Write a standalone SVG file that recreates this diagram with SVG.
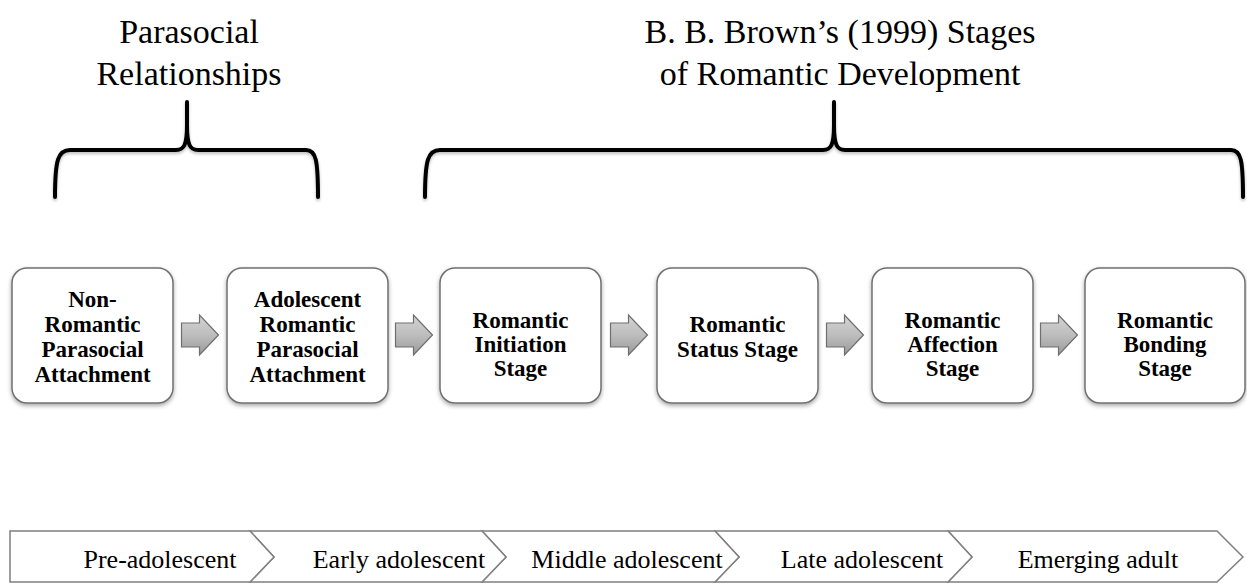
<svg xmlns="http://www.w3.org/2000/svg" width="1247" height="584" viewBox="0 0 1247 584">
<style>
.title{font-family:"Liberation Serif","Times New Roman",serif;font-size:34px;fill:#000;text-anchor:middle}
.box{fill:#fff;stroke:#707070;stroke-width:1.5}
.lbl{font-family:"Liberation Serif","Times New Roman",serif;font-size:23px;font-weight:bold;fill:#000;text-anchor:middle}
.brace{fill:none;stroke:#000;stroke-width:4;stroke-linecap:round;stroke-linejoin:round}
.seg{fill:#fff;stroke:#7f7f7f;stroke-width:1.5;stroke-linejoin:miter}
.age{font-family:"Liberation Serif","Times New Roman",serif;font-size:26px;fill:#000;text-anchor:middle}
.arr{fill:url(#ag);stroke:#6e6e6e;stroke-width:1.2}
</style>
<defs>
<filter id="sh" x="-10%" y="-10%" width="120%" height="125%">
<feDropShadow dx="0" dy="2" stdDeviation="2" flood-color="#000" flood-opacity="0.35"/>
</filter>
<filter id="bsh" x="-5%" y="-20%" width="110%" height="150%">
<feDropShadow dx="0" dy="2" stdDeviation="1.5" flood-color="#000" flood-opacity="0.25"/>
</filter>
<linearGradient id="ag" x1="0" y1="0" x2="0" y2="1">
<stop offset="0" stop-color="#d4d4d4"/>
<stop offset="0.5" stop-color="#bdbdbd"/>
<stop offset="1" stop-color="#9a9a9a"/>
</linearGradient>
<path id="arrow" d="M0,-12 L18,-12 L18,-20 L37,0 L18,20 L18,12 L0,12 Z"/>
</defs>
<rect width="1247" height="584" fill="#fff"/>

<g id="titles">
<text class="title" x="189" y="43">Parasocial</text>
<text class="title" x="189" y="85">Relationships</text>
<text class="title" x="840" y="43">B. B. Brown’s (1999) Stages</text>
<text class="title" x="840" y="85">of Romantic Development</text>
</g>

<g id="braces" filter="url(#bsh)">
<path class="brace" d="M55,197 C55,160 58,150 70,150 L176,150 C184,150 187,145 187,125 L187,102 M187,125 C187,145 190,150 198,150 L306,150 C316,150 318,160 318,197"/>
<path class="brace" d="M425,197 C425,160 428,150 440,150 L823,150 C831,150 834,145 834,125 L834,102 M834,125 C834,145 837,150 845,150 L1231,150 C1241,150 1243,160 1243,197"/>
</g>

<g id="node-1">
<rect class="box" x="12" y="268" width="161" height="135" rx="15" filter="url(#sh)"/>
<text class="lbl" x="92.5" y="307">Non-</text>
<text class="lbl" x="92.5" y="332">Romantic</text>
<text class="lbl" x="92.5" y="357">Parasocial</text>
<text class="lbl" x="92.5" y="382">Attachment</text>
</g>
<g id="node-2">
<rect class="box" x="227" y="268" width="161" height="135" rx="15" filter="url(#sh)"/>
<text class="lbl" x="307.5" y="307">Adolescent</text>
<text class="lbl" x="307.5" y="332">Romantic</text>
<text class="lbl" x="307.5" y="357">Parasocial</text>
<text class="lbl" x="307.5" y="382">Attachment</text>
</g>
<g id="node-3">
<rect class="box" x="440" y="268" width="161" height="135" rx="15" filter="url(#sh)"/>
<text class="lbl" x="520.5" y="328">Romantic</text>
<text class="lbl" x="520.5" y="352">Initiation</text>
<text class="lbl" x="520.5" y="376">Stage</text>
</g>
<g id="node-4">
<rect class="box" x="657" y="268" width="161" height="135" rx="15" filter="url(#sh)"/>
<text class="lbl" x="737.5" y="332">Romantic</text>
<text class="lbl" x="737.5" y="357">Status Stage</text>
</g>
<g id="node-5">
<rect class="box" x="872" y="268" width="161" height="135" rx="15" filter="url(#sh)"/>
<text class="lbl" x="952.5" y="328">Romantic</text>
<text class="lbl" x="952.5" y="352">Affection</text>
<text class="lbl" x="952.5" y="376">Stage</text>
</g>
<g id="node-6">
<rect class="box" x="1085" y="268" width="160" height="135" rx="15" filter="url(#sh)"/>
<text class="lbl" x="1165" y="328">Romantic</text>
<text class="lbl" x="1165" y="352">Bonding</text>
<text class="lbl" x="1165" y="376">Stage</text>
</g>

<g id="connectors">
<use href="#arrow" class="arr" x="181.5" y="335"/>
<use href="#arrow" class="arr" x="395.5" y="335"/>
<use href="#arrow" class="arr" x="610.5" y="335"/>
<use href="#arrow" class="arr" x="826.5" y="335"/>
<use href="#arrow" class="arr" x="1040.5" y="335"/>
</g>

<g id="timeline">
<path class="seg" d="M948,531 L1217,531 L1243,557 L1217,582 L948,582 L972,557 Z"/>
<path class="seg" d="M715,531 L948,531 L972,557 L948,582 L715,582 L739,557 Z"/>
<path class="seg" d="M482,531 L715,531 L739,557 L715,582 L482,582 L506,557 Z"/>
<path class="seg" d="M250,531 L482,531 L506,557 L482,582 L250,582 L274,557 Z"/>
<path class="seg" d="M10,531 L250,531 L274,557 L250,582 L10,582 Z"/>
<text class="age" x="160" y="568">Pre-adolescent</text>
<text class="age" x="399" y="568">Early adolescent</text>
<text class="age" x="627" y="568">Middle adolescent</text>
<text class="age" x="862" y="568">Late adolescent</text>
<text class="age" x="1098" y="568">Emerging adult</text>
</g>
</svg>
